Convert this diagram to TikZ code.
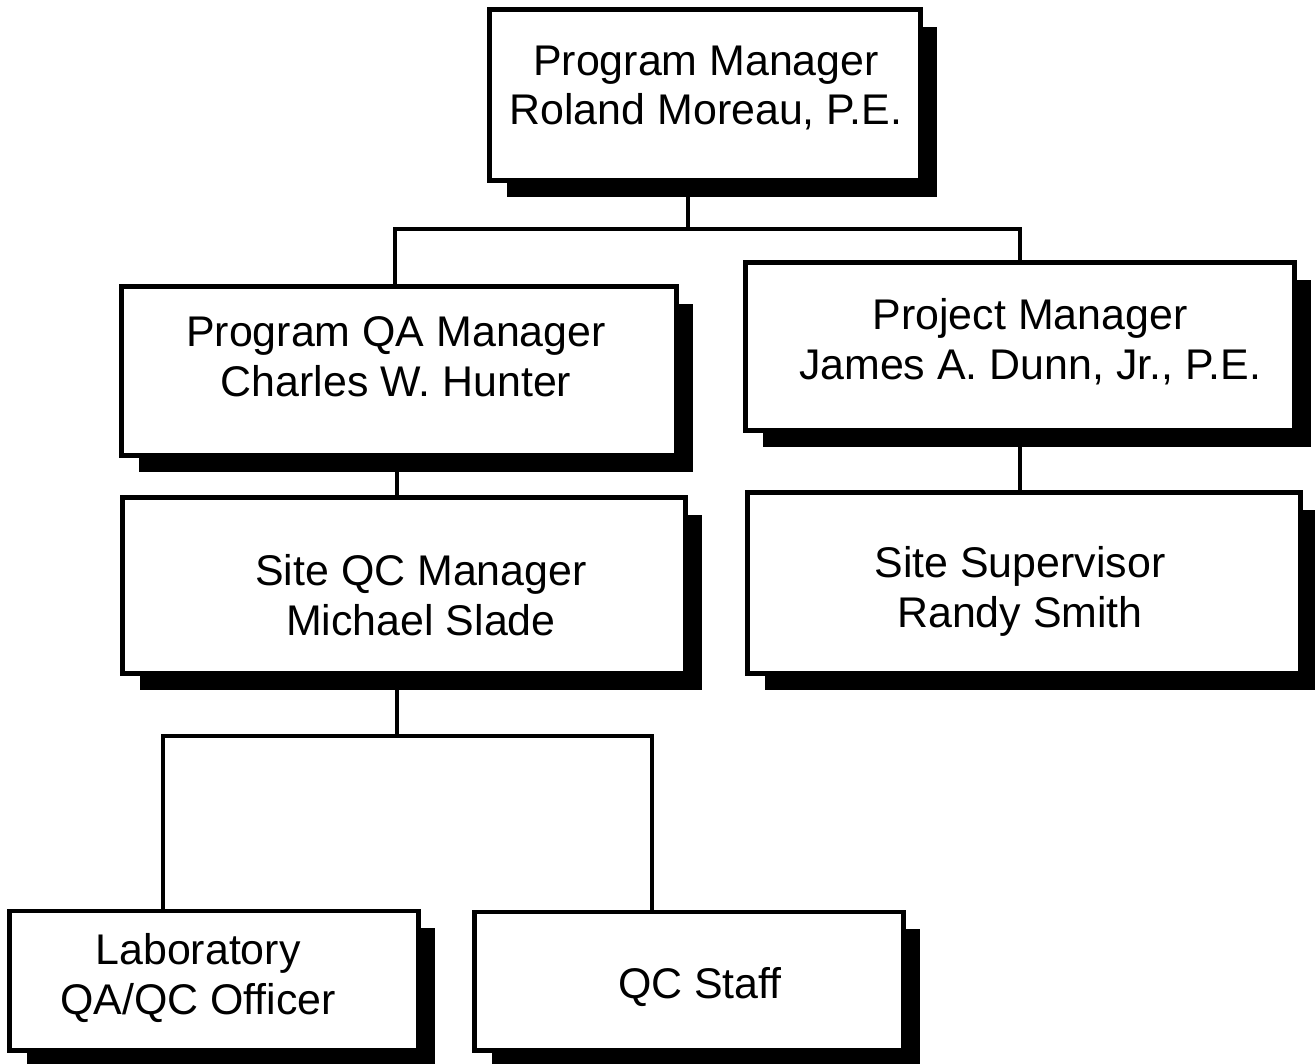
\documentclass[tikz,border=0pt]{standalone}
\usepackage{fontspec}
\setmainfont{Liberation Sans}
\usetikzlibrary{shadows}

\begin{document}
\begin{tikzpicture}[x=0.01cm,y=-0.01cm,
    box/.style={draw,line width=1.4pt,fill=white,inner sep=0pt,
      drop shadow={shadow xshift=0.17cm,shadow yshift=-0.17cm,fill=black,opacity=1}},
    boxtext/.style={align=center,inner sep=0pt,font=\fontsize{12.2}{14.2}\selectfont},
    link/.style={line width=1.1pt}]
    \useasboundingbox (0,0) rectangle (1315,1064);
    % boxes
    \node[box,minimum width=4.30cm,minimum height=1.70cm] (pm) at (705,95) {};
    \node[box,minimum width=5.54cm,minimum height=1.68cm] (qa) at (399,371) {};
    \node[box,minimum width=5.48cm,minimum height=1.67cm] (prj) at (1020,346.5) {};
    \node[box,minimum width=5.62cm,minimum height=1.75cm] (qc) at (404,585.5) {};
    \node[box,minimum width=5.52cm,minimum height=1.80cm] (sup) at (1024,583) {};
    \node[box,minimum width=4.08cm,minimum height=1.39cm] (lab) at (214,980.5) {};
    \node[box,minimum width=4.28cm,minimum height=1.38cm] (staff) at (689,981) {};
    % texts
    \node[boxtext] (pm-t) at (706,88) {Program Manager\\Roland Moreau, P.E.};
    \node[boxtext] (qa-t) at (396,357) {Program QA Manager\\Charles W. Hunter};
    \node[boxtext] (prj-t) at (1030,342) {Project Manager\\James A. Dunn, Jr., P.E.};
    \node[boxtext] (qc-t) at (421,595) {Site QC Manager\\Michael Slade};
    \node[boxtext] (sup-t) at (1020,591) {Site Supervisor\\Randy Smith};
    \node[boxtext] (lab-t) at (198,978) {Laboratory\\QA/QC Officer};
    \node[boxtext] (staff-t) at (700,987) {QC Staff};
    % connectors
    \coordinate (pm-j) at (688,229);
    \coordinate (pm-l) at (395,229);
    \coordinate (pm-r) at (1020,229);
    \coordinate (qa-d) at (397,0);
    \coordinate (qc-j) at (397,736);
    \coordinate (qc-l) at (163,736);
    \coordinate (qc-r) at (652,736);
    \draw[link] (pm.south -| pm-j) -- (pm-j);
    \draw[link] (qa.north -| pm-l) -- (pm-l) -- (pm-r) -- (prj.north -| pm-r);
    \draw[link] (qa.south -| qa-d) -- (qc.north -| qa-d);
    \draw[link] (prj.south) -- (prj.south |- sup.north);
    \draw[link] (qc.south -| qc-j) -- (qc-j);
    \draw[link] (lab.north -| qc-l) -- (qc-l) -- (qc-r) -- (staff.north -| qc-r);
\end{tikzpicture}
\end{document}
